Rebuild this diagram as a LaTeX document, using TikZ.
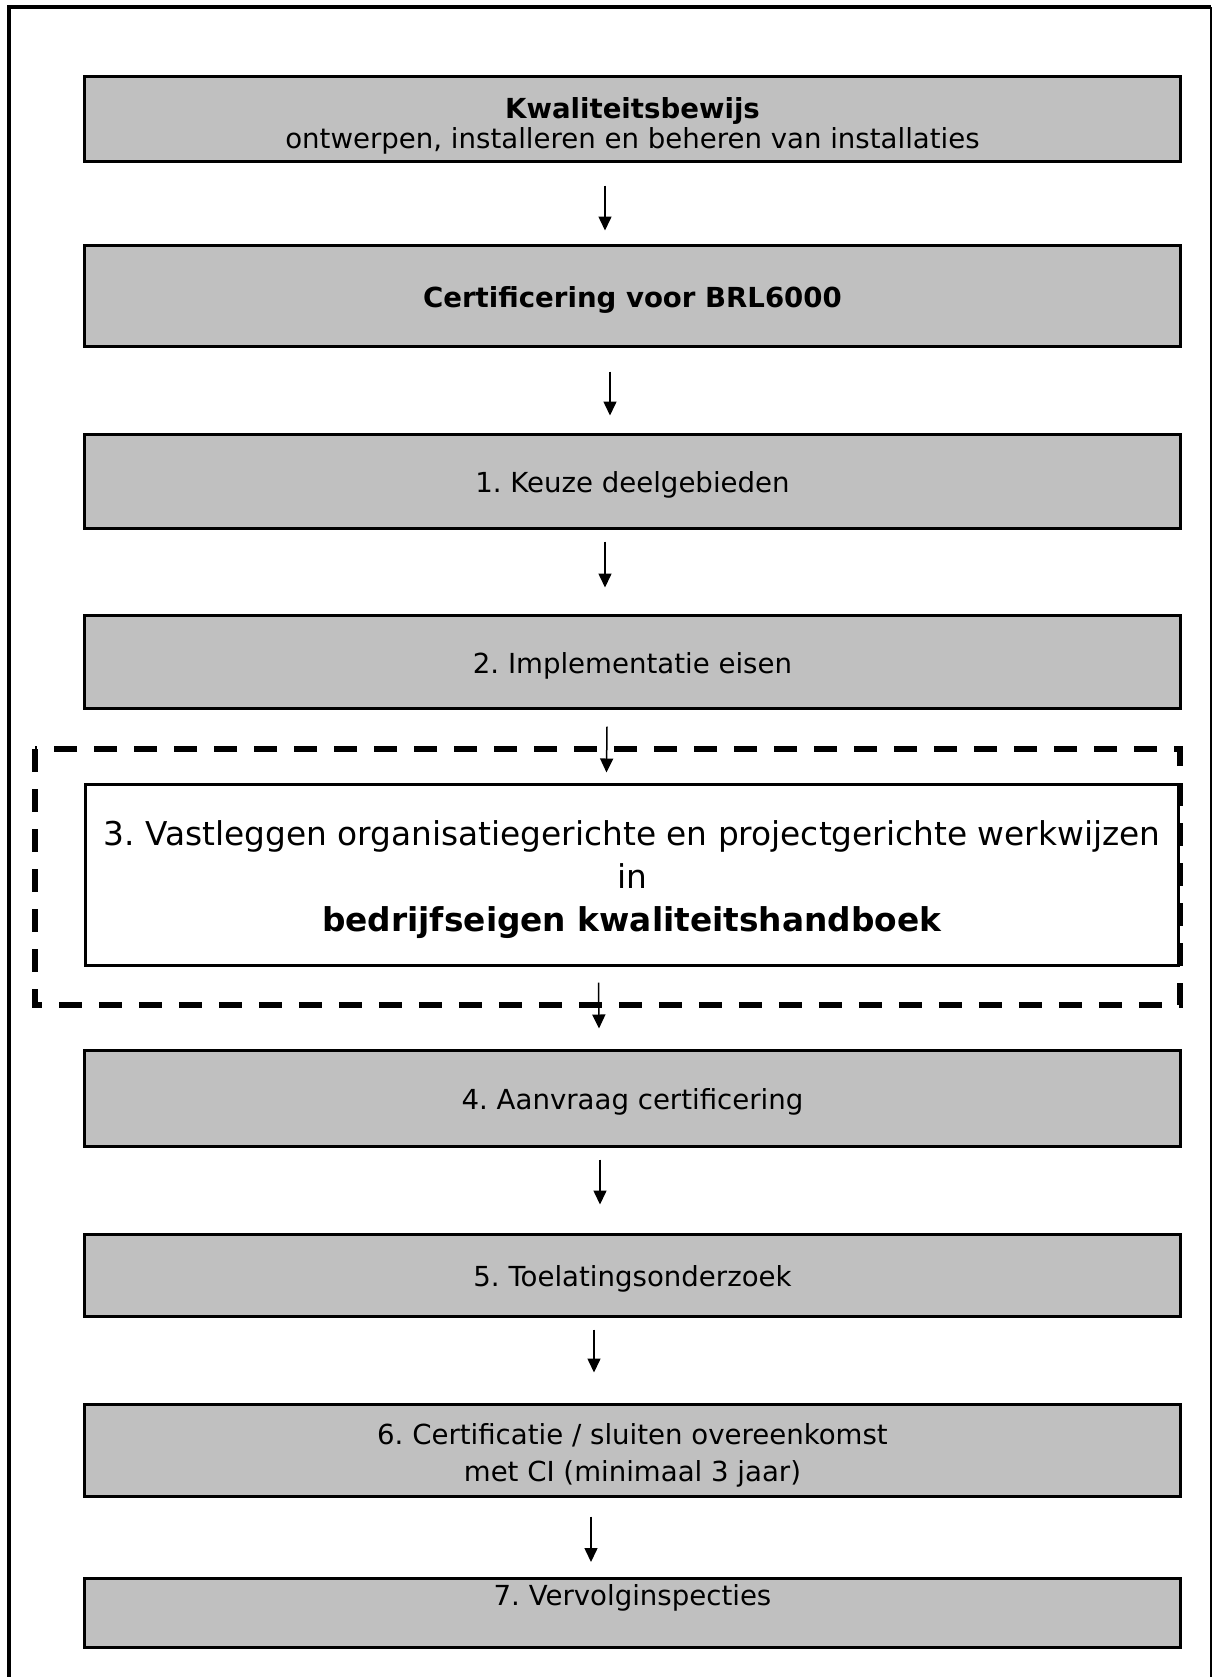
\documentclass[tikz,border=0pt]{standalone}
\usepackage{fontspec}
\setmainfont{DejaVu Sans}
\usepackage{tikz}
\usetikzlibrary{arrows.meta, calc}
\definecolor{boxgray} {RGB}{192, 192, 192}
\definecolor{darkline}{RGB}{0, 0, 0}
\frenchspacing

\begin{document}
\begin{tikzpicture}[x=0.5pt, y=-0.5pt, font=\fontsize{13.8}{15}\selectfont]
  \tikzset{
    stepbox/.style={draw=darkline, line width=1.5pt, fill=boxgray, inner sep=0pt,
      minimum width=548pt, align=center},
    oneline/.style={text height=11.6pt, text depth=0.4pt},
    flow/.style={-{Triangle[length=7pt, width=6.5pt]}, line width=0.75pt},
  }
  \useasboundingbox (0,0) rectangle (1215,1677);
  % outer frame (cut off at the bottom)
  \draw[line width=2pt] (9,1690) -- (9,7) -- (1211,7);
  \draw[line width=0.75pt] (1211,7) -- (1211,1690);
  % steps
  \node[stepbox, minimum height=42.5pt, font=\fontsize{13.8}{15}\selectfont] (kwal) at (632.5,119)
    {\rule{0pt}{17pt}\textbf{Kwaliteitsbewijs}\\ontwerpen, installeren en beheren van installaties};
  \node[stepbox, oneline, minimum height=50.5pt] (cert) at (632.5,296) {\textbf{Certificering voor BRL6000}};
  \node[stepbox, oneline, minimum height=47pt] (keuze) at (632.5,481.5) {1. Keuze deelgebieden};
  \node[stepbox, oneline, minimum height=46.5pt] (impl) at (632.5,662) {2. Implementatie eisen};
  \node[stepbox, fill=white, minimum width=546.5pt, minimum height=90.5pt,
    font=\fontsize{16.4}{21.5}\selectfont] (hand) at (632,875)
    {\rule{0pt}{17.3pt}3. Vastleggen organisatiegerichte en projectgerichte werkwijzen\\in\\
     \textbf{bedrijfseigen kwaliteitshandboek}};
  \node[stepbox, oneline, minimum height=48pt] (aanv) at (632.5,1098.5) {4. Aanvraag certificering};
  \node[stepbox, oneline, minimum height=41pt] (toel) at (632.5,1275.5) {5. Toelatingsonderzoek};
  \node[stepbox, minimum height=46pt, font=\fontsize{13.8}{18.5}\selectfont] (certi) at (632.5,1450.5)
    {\rule{0pt}{15.3pt}6. Certificatie / sluiten overeenkomst\\met CI (minimaal 3 jaar)};
  \node[stepbox, anchor=north, text height=13.75pt, text depth=20.75pt] (vervolg) at (632.5,1576.5)
    {7. Vervolginspecties};
  % dashed frame round step 3
  \draw[line width=3pt, dash pattern=on 11.5pt off 8.5pt] (35,749) rectangle (1180,1005);
  % arrows
  \draw[flow] ([shift={(-27.5,22.5)}]kwal.south) -- ([shift={(-27.5,-13.5)}]cert.north);
  \draw[flow] ([shift={(-22.5,23.5)}]cert.south) -- ([shift={(-22.5,-17.5)}]keuze.north);
  \draw[flow] ([shift={(-27.5,11.5)}]keuze.south) -- ([shift={(-27.5,-26.5)}]impl.north);
  \draw[flow] ([shift={(-25.5,16.5)}]impl.south) -- ([shift={(-25.5,-10.5)}]hand.north);
  \draw[flow] ([shift={(-33.5,15.5)}]hand.south) -- ([shift={(-33.5,-20.5)}]aanv.north);
  \draw[flow] ([shift={(-32.5,11.5)}]aanv.south) -- ([shift={(-32.5,-28.5)}]toel.north);
  \draw[flow] ([shift={(-38.5,11.5)}]toel.south) -- ([shift={(-38.5,-30.5)}]certi.north);
  \draw[flow] ([shift={(-41.5,18.5)}]certi.south) -- ([shift={(-41.5,-14.5)}]vervolg.north);
\end{tikzpicture}
\end{document}
